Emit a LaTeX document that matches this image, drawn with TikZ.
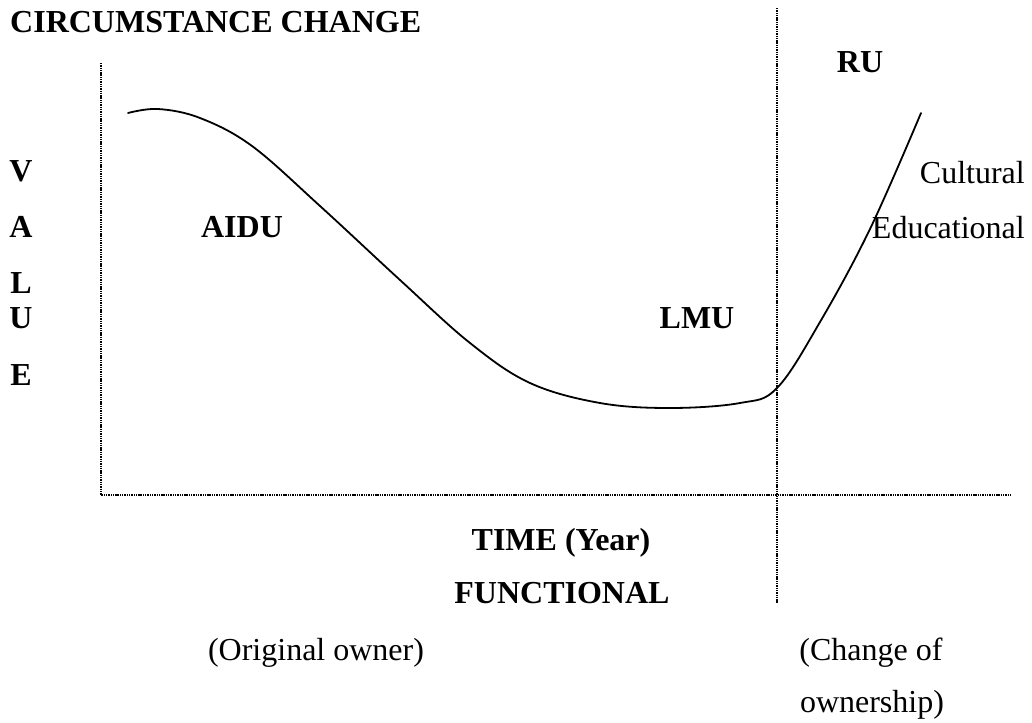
\documentclass[tikz,border=0pt]{standalone}
\usepackage{fontspec}
\setmainfont{Liberation Serif}

\begin{document}
\begin{tikzpicture}[
  x=1pt, y=-1pt,
  every node/.style={inner sep=0pt, font=\fontsize{32}{38}\selectfont},
  hd/.style={font=\fontsize{32}{38}\selectfont\bfseries},
  axis/.style={line width=1.4pt, dash pattern=on 1.4pt off 0.9pt},
  curve/.style={line width=1.8pt, line cap=round}
]
\useasboundingbox (0,0) rectangle (1032,722);
% axes and divider
\coordinate (ytop) at (101,63);
\coordinate (orig) at (101,495);
\coordinate (xend) at (1012,495);
\coordinate (dtop) at (777,8);
\coordinate (dbot) at (777,603);
\draw[axis] (ytop) -- (orig) -- (xend);
\draw[axis] (dtop) -- (dbot);
% value curve
\draw[curve] plot[smooth, tension=0.6] coordinates {
  (128,113) (158,109) (200,118) (252,146) (320,206) (400,280)
  (470,343) (530,383) (600,403) (670,408) (740,403) (777,388)
  (820,322) (870,229) (921,113)};
% labels
\node[hd, anchor=base west] (title) at (10,33) {CIRCUMSTANCE CHANGE};
\node[hd, anchor=base] (ru) at (860,73) {RU};
\node[hd, anchor=base] (v) at (21,182) {V};
\node[hd, anchor=base] (a) at (21,237) {A};
\node[hd, anchor=base] (l) at (21,293) {L};
\node[hd, anchor=base] (u) at (21,328) {U};
\node[hd, anchor=base] (e) at (21,385) {E};
\node[hd, anchor=base] (aidu) at (242,237) {AIDU};
\node[hd, anchor=base] (lmu) at (697,328) {LMU};
\node[anchor=base east] (cult) at (1025,183) {Cultural};
\node[anchor=base east] (educ) at (1025,238) {Educational};
\node[hd, anchor=base] (time) at (561,550) {TIME (Year)};
\node[hd, anchor=base] (func) at (562,603) {FUNCTIONAL};
\node[anchor=base] (orow) at (316,660) {(Original owner)};
\node[anchor=base] (chg) at (871,660) {(Change of};
\node[anchor=base] (own) at (872,712) {ownership)};
\end{tikzpicture}
\end{document}
